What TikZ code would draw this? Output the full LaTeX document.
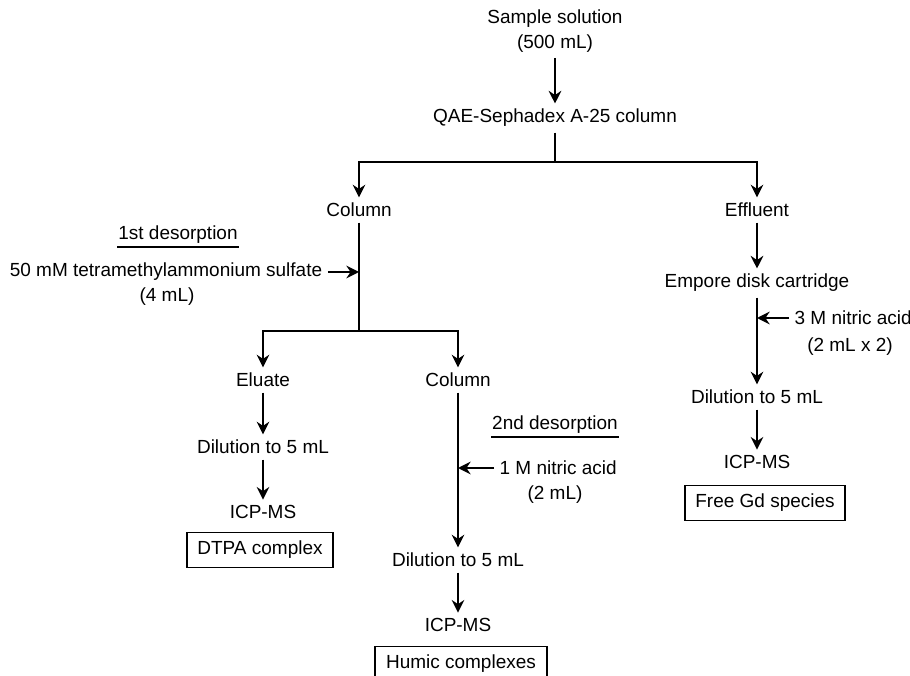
\documentclass[tikz,border=0pt]{standalone}
\usepackage{fontspec}
\setmainfont{Liberation Sans}
\usetikzlibrary{arrows.meta}
\tikzset{
  arr/.style={-{Stealth[length=9pt,width=9pt,inset=3pt]}},
  box/.style={draw, inner xsep=0.27cm, minimum height=0.875cm},
  head/.style={inner xsep=0pt, inner ysep=1.5pt}
}
\begin{document}
\begin{tikzpicture}[x=0.025cm,y=-0.025cm,line width=1.4pt,
  font=\fontsize{13.5}{17.7}\selectfont]
\useasboundingbox (0,0) rectangle (910,676);

\node[align=center] (sample) at (555,31) {Sample solution\\(500 mL)};
\node (qae) at (555,118) {QAE-Sephadex A-25 column};

\node (col1) at (359,210) {Column};
\node (eff) at (757,210) {Effluent};

% 1st desorption
\node[head] (des1) at (178,235) {1st desorption};
\node (reag1) at (166,272) {50 mM tetramethylammonium sulfate};
\node (vol1) at (167,297) {(4 mL)};

\node (elu) at (263,380) {Eluate};
\node (dil1) at (263,447) {Dilution to 5 mL};
\node (icp1) at (263,512) {ICP-MS};
\node[box] (dtpa) at (260,550) {DTPA complex};

% 2nd desorption
\node (col2) at (458,380) {Column};
\node[head] (des2) at (555,425) {2nd desorption};
\node[anchor=west] (reag2) at (494,468) {1 M nitric acid};
\node (vol2) at (555,495) {(2 mL)};
\node (dil2) at (458,560) {Dilution to 5 mL};
\node (icp2) at (458,625) {ICP-MS};
\node[box] (humic) at (461,664) {Humic complexes};

% effluent side
\node (emp) at (757,283) {Empore disk cartridge};
\node[anchor=west] (reag3) at (789,318) {3 M nitric acid};
\node (vol3) at (850,347) {(2 mL x 2)};
\node (dil3) at (757,397) {Dilution to 5 mL};
\node (icp3) at (757,462) {ICP-MS};
\node[box] (free) at (765,503) {Free Gd species};

\coordinate (j1) at (555,162);
\coordinate (j2) at (359,331);
\coordinate (t1) at (359,272);
\coordinate (t2) at (458,468);
\coordinate (t3) at (757,318);

\draw[arr] (sample) -- (qae);
\draw (qae) -- (j1);
\draw[arr] (j1) -| (col1);
\draw[arr] (j1) -| (eff);

\draw (des1.south west) -- (des1.south east);
\draw (col1) -- (j2);
\draw[arr] (reag1) -- (t1);
\draw[arr] (j2) -| (elu);
\draw[arr] (j2) -| (col2);

\draw[arr] (elu) -- (dil1);
\draw[arr] (dil1) -- (icp1);

\draw (des2.south west) -- (des2.south east);
\draw[arr] (col2) -- (dil2);
\draw[arr] (reag2) -- (t2);
\draw[arr] (dil2) -- (icp2);

\draw[arr] (eff) -- (emp);
\draw[arr] (emp) -- (dil3);
\draw[arr] (reag3) -- (t3);
\draw[arr] (dil3) -- (icp3);
\end{tikzpicture}
\end{document}
